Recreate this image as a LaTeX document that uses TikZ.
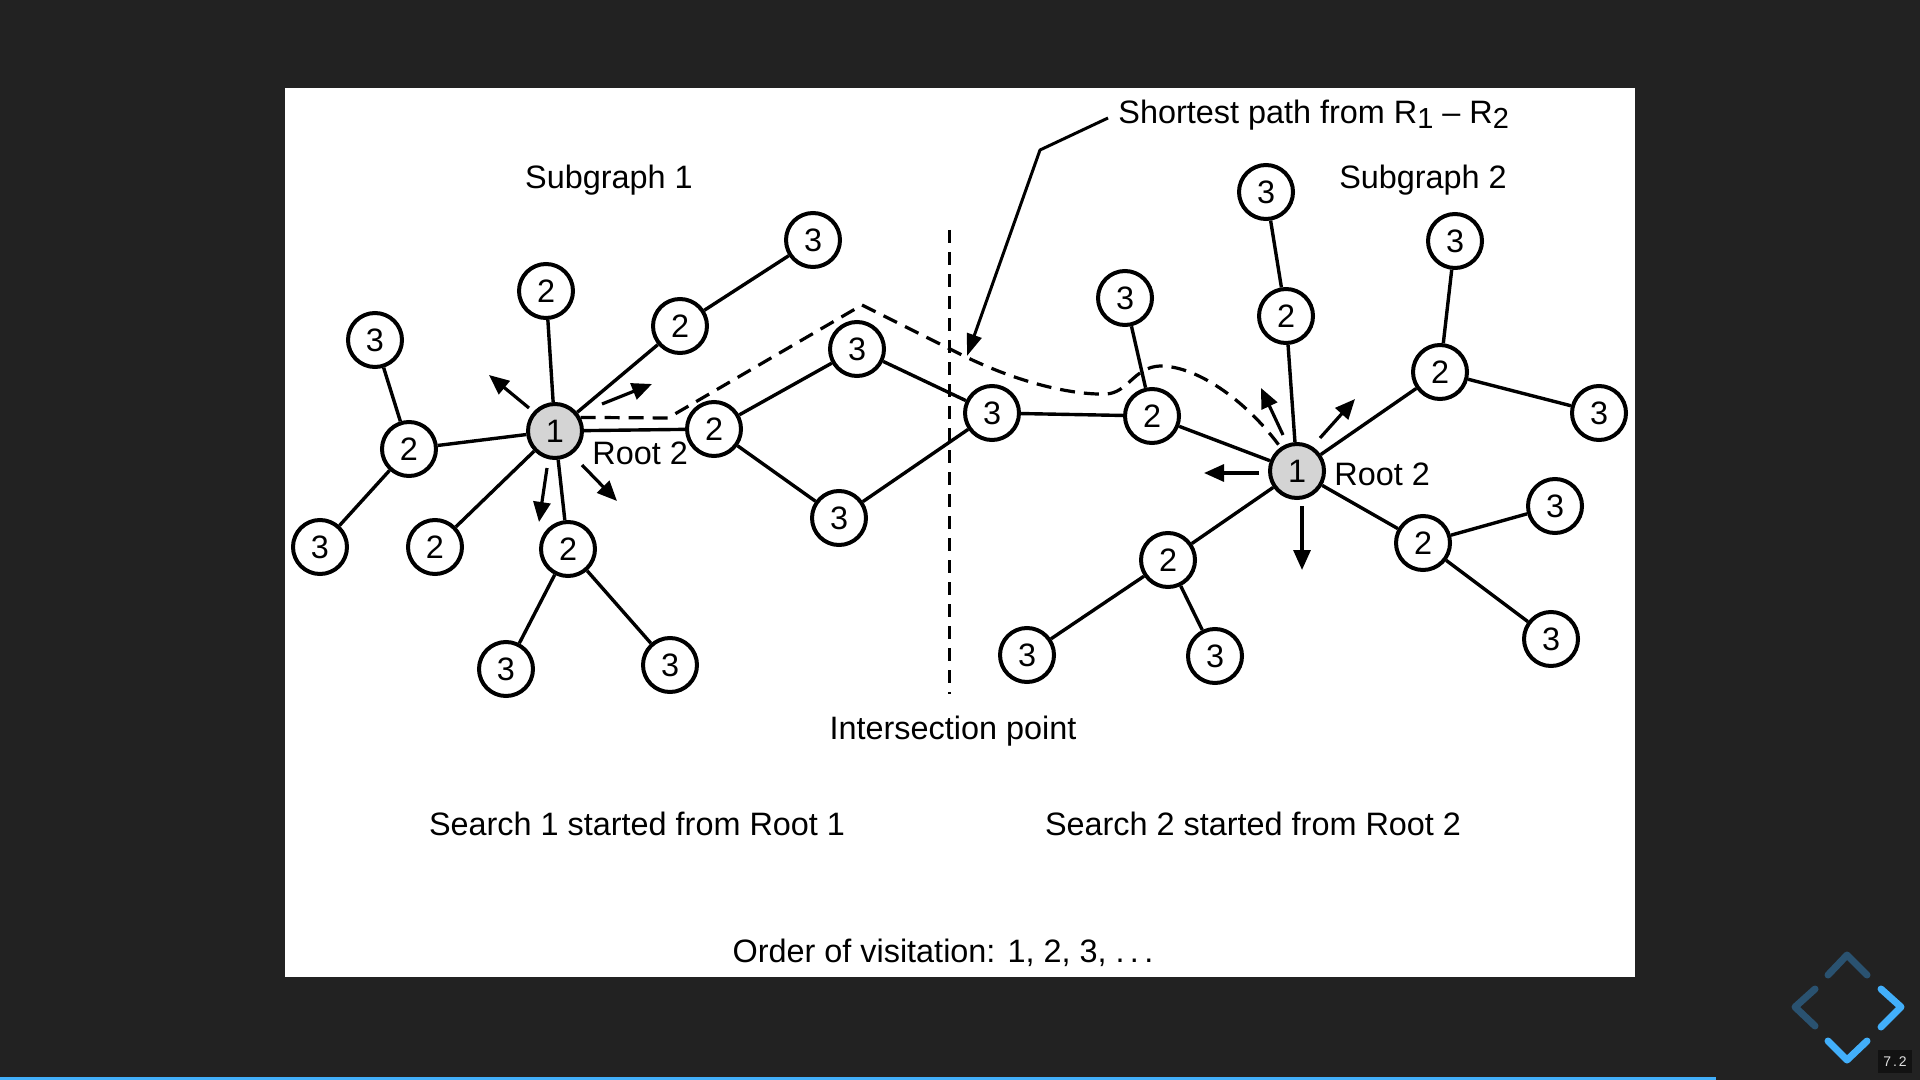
\documentclass[tikz,border=0pt]{standalone}
\usepackage{fontspec}
\setmainfont{Liberation Sans}
\usetikzlibrary{arrows.meta}

\definecolor{slidebg}{HTML}{222222}
\definecolor{revealblue}{HTML}{42AFFA}
\definecolor{revealdim}{RGB}{42,82,112}
\definecolor{rootgray}{RGB}{212,212,212}
\definecolor{numbox}{RGB}{18,18,18}

\newcommand{\dgmfont}{\fontsize{16.2}{19}\selectfont}
\newcommand{\subdigit}[1]{\raisebox{-0.3ex}{\fontsize{14.5}{16}\selectfont #1}}

\begin{document}
\begin{tikzpicture}[x=0.5pt,y=-0.5pt,
  vertex/.style={circle,draw=black,line width=2pt,fill=white,
                 minimum size=27pt,inner sep=0pt,font=\dgmfont},
  rootvertex/.style={vertex,fill=rootgray},
  edge/.style={line width=1.7pt},
  lbl/.style={font=\dgmfont,inner sep=0pt,text=black},
  push/.style={line width=1.6pt,-{Triangle[length=10pt,width=8.5pt]}},
  callout/.style={line width=1.5pt,line join=round,-{Triangle[length=11pt,width=7.5pt]}},
  shortest/.style={line width=1.6pt,dash pattern=on 7.5pt off 4.5pt},
  divider/.style={line width=1.5pt,dash pattern=on 6.5pt off 4.5pt},
  chevron/.style={line width=3.5pt,line cap=round,line join=round}
]
% slide background and image panel
\useasboundingbox (0,0) rectangle (1920,1080);
\fill[slidebg] (0,0) rectangle (1920,1080);
\fill[white] (285,88) rectangle (1635,977);

% ---- subgraph 1 ----
\node[rootvertex] (r1) at (555,431) {1};
\node[vertex] (l2a) at (546,291) {2};
\node[vertex] (l2b) at (680,326) {2};
\node[vertex] (l3a) at (813,240) {3};
\node[vertex] (l3b) at (375,340) {3};
\node[vertex] (l2c) at (409,449) {2};
\node[vertex] (l3c) at (320,547) {3};
\node[vertex] (l2d) at (435,547) {2};
\node[vertex] (l2e) at (568,549) {2};
\node[vertex] (l3d) at (506,669) {3};
\node[vertex] (l3e) at (670,665) {3};
\node[vertex] (l2f) at (714,429) {2};
\node[vertex] (m3a) at (857,349) {3};
\node[vertex] (m3b) at (839,518) {3};
\node[vertex] (m3c) at (992,413) {3};

% ---- subgraph 2 ----
\node[rootvertex] (r2) at (1297,471) {1};
\node[vertex] (r2a) at (1152,416) {2};
\node[vertex] (r3a) at (1125,298) {3};
\node[vertex] (r2b) at (1286,316) {2};
\node[vertex] (r3b) at (1266,192) {3};
\node[vertex] (r2c) at (1440,372) {2};
\node[vertex] (r3c) at (1455,241) {3};
\node[vertex] (r3d) at (1599,413) {3};
\node[vertex] (r2d) at (1423,543) {2};
\node[vertex] (r3e) at (1555,506) {3};
\node[vertex] (r3f) at (1551,639) {3};
\node[vertex] (r2e) at (1168,560) {2};
\node[vertex] (r3g) at (1027,655) {3};
\node[vertex] (r3h) at (1215,656) {3};

% edges of subgraph 1
\draw[edge] (r1) -- (l2a);
\draw[edge] (r1) -- (l2b);
\draw[edge] (l2b) -- (l3a);
\draw[edge] (r1) -- (l2c);
\draw[edge] (l2c) -- (l3b);
\draw[edge] (l2c) -- (l3c);
\draw[edge] (r1) -- (l2d);
\draw[edge] (r1) -- (l2e);
\draw[edge] (l2e) -- (l3d);
\draw[edge] (l2e) -- (l3e);
\draw[edge] (r1) -- (l2f);
\draw[edge] (l2f) -- (m3a);
\draw[edge] (l2f) -- (m3b);
\draw[edge] (m3a) -- (m3c);
\draw[edge] (m3b) -- (m3c);

% edges of subgraph 2
\draw[edge] (m3c) -- (r2a);
\draw[edge] (r2a) -- (r3a);
\draw[edge] (r2a) -- (r2);
\draw[edge] (r2) -- (r2b);
\draw[edge] (r2b) -- (r3b);
\draw[edge] (r2) -- (r2c);
\draw[edge] (r2c) -- (r3c);
\draw[edge] (r2c) -- (r3d);
\draw[edge] (r2) -- (r2d);
\draw[edge] (r2d) -- (r3e);
\draw[edge] (r2d) -- (r3f);
\draw[edge] (r2) -- (r2e);
\draw[edge] (r2e) -- (r3g);
\draw[edge] (r2e) -- (r3h);

% search directions out of each root
\draw[push] (529,408) -- (489,375);
\draw[push] (602,404) -- (652,384);
\draw[push] (547,468) -- (539,522);
\draw[push] (582,465) -- (617,501);
\draw[push] (1283,435) -- (1261,388);
\draw[push] (1320,438) -- (1355,399);
\draw[push] (1259,473) -- (1204,473);
\draw[push] (1302,506) -- (1302,570);

% shortest path between the roots
\draw[shortest] (r1.28) -- (668,418) -- (862,305) -- (966,357)
  .. controls (1020,383) and (1072,395) .. (1106,394)
  .. controls (1128,393) and (1134,367) .. (1160,366)
  .. controls (1200,366) and (1250,405) .. (r2.125);

% meeting line of the two searches
\coordinate (ixtop) at (949,230);
\coordinate (ixbot) at (949,694);
\draw[divider] (ixtop) -- (ixbot);

% labels
\node[lbl] (sg1) at (609,180) {Subgraph 1};
\node[lbl] (sg2) at (1423,180) {Subgraph 2};
\node[lbl,anchor=west] (r1lab) at (592,453) {Root 2};
\node[lbl,anchor=west] (r2lab) at (1334,474) {Root 2};
\node[lbl,anchor=west] (sp) at (1118,115) {Shortest path from R\subdigit{1} -- R\subdigit{2}};
\node[lbl] (ix) at (953,731) {Intersection point};
\node[lbl] (s1) at (637,824) {Search 1 started from Root 1};
\node[lbl] (s2) at (1253,824) {Search 2 started from Root 2};
\node[lbl] (order) at (943,953) {Order of visitation: 1, 2, 3, .\,.\,.};

% callout to the shortest path
\coordinate (spfoot) at (1108,118);
\coordinate (spbend) at (1040,150);
\coordinate (sptip) at (967,356);
\draw[callout] (spfoot) -- (spbend) -- (sptip);

% slide navigation
\draw[chevron,revealdim] (1828,975) -- (1847,955) -- (1867,975);
\draw[chevron,revealdim] (1815,989) -- (1795,1007) -- (1815,1026);
\draw[chevron,revealblue] (1881,989) -- (1901,1007) -- (1881,1027);
\draw[chevron,revealblue] (1828,1041) -- (1847,1060) -- (1867,1041);
\fill[numbox] (1878,1050) rectangle (1912,1073);
\node[text=white!88!black,font=\fontsize{7}{8}\selectfont,inner sep=0pt] (slideno) at (1895,1061.5) {7\kern1pt.\kern1pt2};

% progress bar
\fill[revealblue] (0,1077) rectangle (1716,1080);
\end{tikzpicture}
\end{document}
